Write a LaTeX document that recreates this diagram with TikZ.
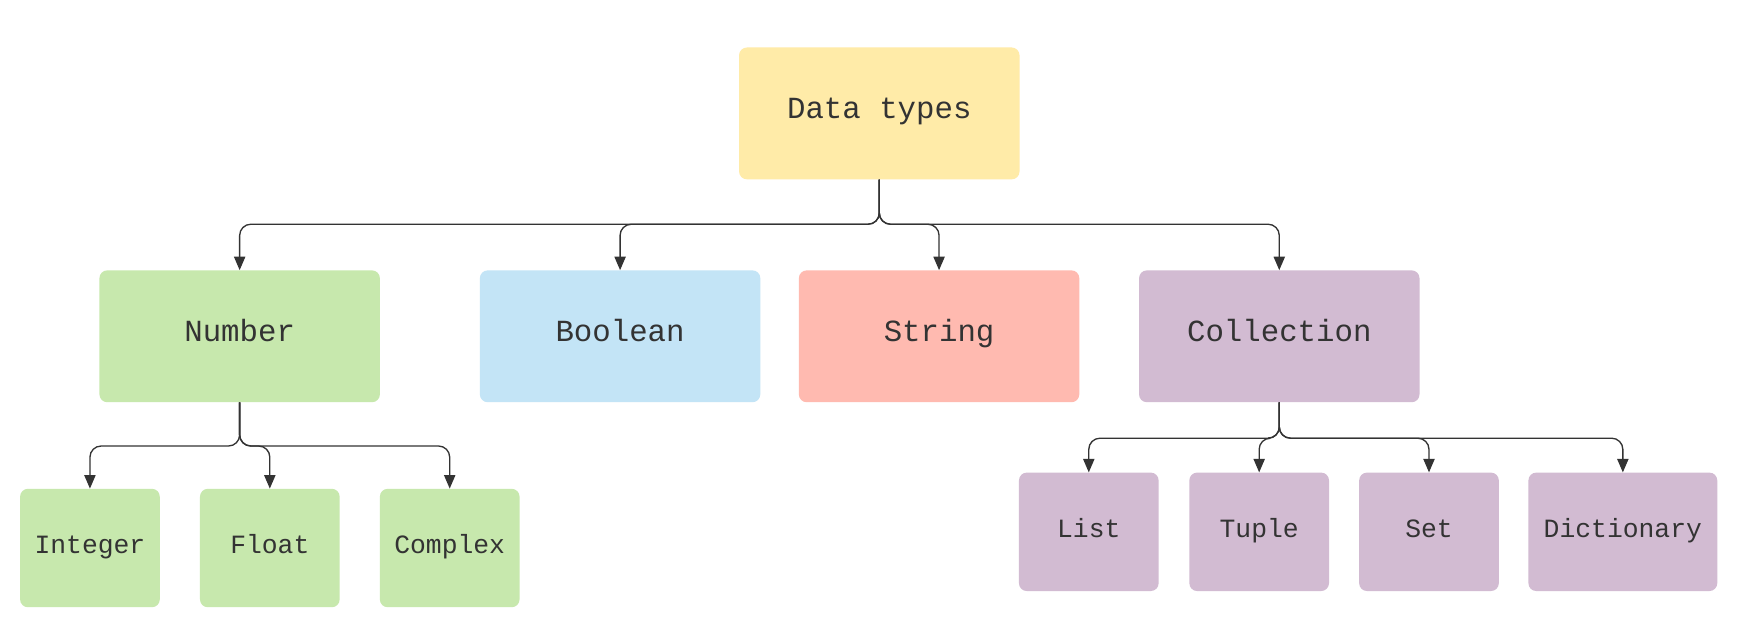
\documentclass[tikz,border=0pt]{standalone}
\usepackage{fontspec}
\setmonofont{Liberation Mono}
\usetikzlibrary{arrows.meta}
\definecolor{ink}{HTML}{333333}
\definecolor{cyel}{HTML}{FFEBA8}
\definecolor{cgrn}{HTML}{C7E8AD}
\definecolor{cblu}{HTML}{C3E4F6}
\definecolor{cred}{HTML}{FFBAB0}
\definecolor{cpur}{HTML}{D2BBD2}
\tikzset{
  box/.style={rounded corners=7pt, inner sep=0pt, text=ink, text height=0.98em, text depth=0pt, font=\ttfamily\fontsize{27.5}{30}\selectfont},
  bigbox/.style={box, minimum width=251pt, minimum height=118pt},
  smallbox/.style={box, minimum width=125pt, minimum height=106pt, font=\ttfamily\fontsize{23.6}{26}\selectfont},
  conn/.style={draw=ink, line width=1.2pt, rounded corners=10pt, -{Triangle[length=12pt,width=10pt]}}
}
\begin{document}
\begin{tikzpicture}[x=1pt,y=-1pt]
\useasboundingbox[fill=white] (0,0) rectangle (1569,566.6);
\node[bigbox, fill=cyel] (dt) at (787,101.5) {Data types};
\node[bigbox, fill=cgrn] (nb) at (214.5,301) {Number};
\node[bigbox, fill=cblu] (bo) at (555,301) {Boolean};
\node[bigbox, fill=cred] (st) at (840.5,301) {String};
\node[bigbox, fill=cpur] (co) at (1145,301) {Collection};
\node[smallbox, fill=cgrn] (in) at (80.5,490.5) {Integer};
\node[smallbox, fill=cgrn] (fl) at (241.5,490.5) {Float};
\node[smallbox, fill=cgrn] (cx) at (402.5,490.5) {Complex};
\node[smallbox, fill=cpur] (li) at (974.5,476) {List};
\node[smallbox, fill=cpur] (tu) at (1127,476) {Tuple};
\node[smallbox, fill=cpur] (se) at (1279,476) {Set};
\node[smallbox, fill=cpur, minimum width=169pt] (di) at (1452.5,476) {Dictionary};
\foreach \c in {nb,bo,st,co}
  \draw[conn] (dt.south) -- ++(0,40) -| (\c.north);
\foreach \c in {in,fl,cx}
  \draw[conn] (nb.south) -- ++(0,39) -| (\c.north);
\foreach \c in {li,tu,se,di}
  \draw[conn] (co.south) -- ++(0,32) -| (\c.north);
\end{tikzpicture}
\end{document}
